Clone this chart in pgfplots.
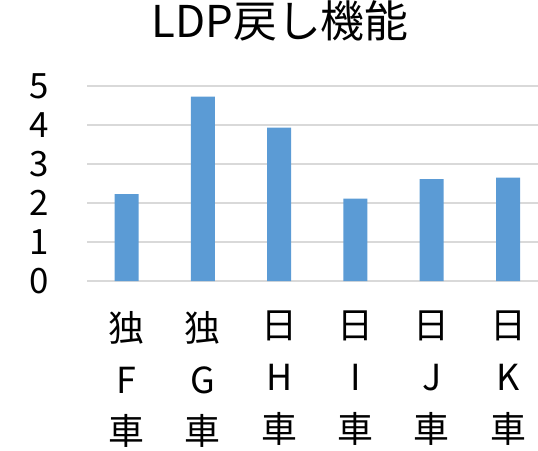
\documentclass[border=0pt]{standalone}
\usepackage{fontspec}
\setmainfont{Noto Sans CJK JP}
\usepackage{pgfplots}
\pgfplotsset{compat=1.18}
\definecolor{barblue}{HTML}{5B9BD5}
\definecolor{gridgray}{HTML}{D9D9D9}
\begin{document}
\begin{tikzpicture}
\path[use as bounding box] (0,0) rectangle (538bp,451bp);
\begin{axis}[
  at={(87bp,170bp)}, anchor=south west,
  scale only axis,
  width=451bp, height=195bp,
  xmin=-0.518, xmax=5.393,
  ymin=0, ymax=5,
  ytick={0,1,2,3,4,5},
  xtick={0,1,2,3,4,5},
  xticklabels={独\\F\\車, 独\\G\\車, 日\\H\\車, 日\\I\\車, 日\\J\\車, 日\\K\\車},
  axis line style={draw=none},
  major tick length=0pt,
  ymajorgrids,
  grid style={gridgray, line width=1.2bp},
  /pgf/number format/assume math mode=true,
  yticklabel style={font=\fontsize{35}{40}\selectfont, anchor=east, inner sep=0pt, xshift=-38bp},
  xticklabel style={font=\fontsize{36}{52}\selectfont, align=center, anchor=north, inner sep=0pt, yshift=-30bp},
  title={LDP戻し機能},
  title style={at={(0.428,1)}, anchor=base, yshift=43bp, inner sep=0pt, font=\fontsize{44}{50}\selectfont},
  clip=false,
]
\addplot[ybar, bar width=24bp, fill=barblue, draw=none] coordinates {
  (0,2.23) (1,4.73) (2,3.93) (3,2.11) (4,2.61) (5,2.65)
};
\end{axis}
\end{tikzpicture}
\end{document}
